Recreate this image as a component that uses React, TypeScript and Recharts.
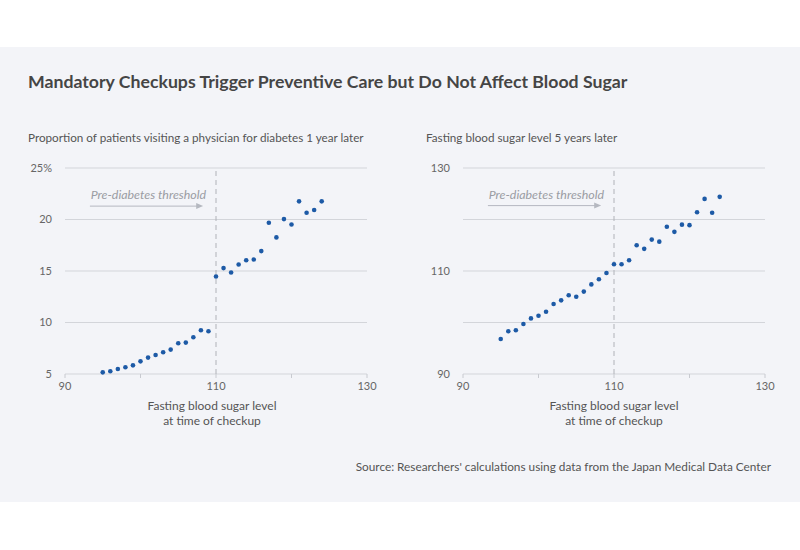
import {
  ScatterChart,
  Scatter,
  XAxis,
  YAxis,
  CartesianGrid,
  ReferenceLine,
} from 'recharts';

// fasting blood sugar at time of checkup (bin centers)
const checkupLevels = [
  95, 96, 97, 98, 99, 100, 101, 102, 103, 104, 105, 106, 107, 108, 109,
  110, 111, 112, 113, 114, 115, 116, 117, 118, 119, 120, 121, 122, 123, 124,
];

// % visiting a physician for diabetes 1 year later
const visitShare = [
  5.16, 5.26, 5.49, 5.65, 5.84, 6.23, 6.59, 6.85, 7.11, 7.37, 7.98, 8.05, 8.57, 9.25, 9.15,
  14.47, 15.28, 14.85, 15.63, 16.05, 16.12, 16.93, 19.68, 18.26, 20.04, 19.52, 21.76, 20.66, 20.92, 21.76,
];

// fasting blood sugar 5 years later
const laterSugar = [
  96.8, 98.3, 98.5, 99.7, 100.8, 101.3, 102.1, 103.6, 104.3, 105.3, 105.0, 106.0, 107.4, 108.4, 109.6,
  111.3, 111.3, 112.1, 115.0, 114.3, 116.1, 115.7, 118.6, 117.6, 119.0, 118.9, 121.4, 124.0, 121.3, 124.4,
];

const xTicks = [90, 100, 110, 120, 130];
const leftTicks = [5, 10, 15, 20, 25];
const rightTicks = [90, 100, 110, 120, 130];

const leftData = checkupLevels.map((x, i) => ({ x, y: visitShare[i] }));
const rightData = checkupLevels.map((x, i) => ({ x, y: laterSugar[i] }));

const FONT = 'Lato, "Open Sans", sans-serif';
const DOT = '#1d5aa6';

const Dot = (props: any) => <circle cx={props.cx} cy={props.cy} r={2.3} fill={DOT} />;

const ThresholdArrow = (props: any) => {
  const { x1, y1, x2, y2 } = props;
  return (
    <g>
      <line x1={x1} y1={y1} x2={x2 - 4} y2={y2} stroke="#b5b8c0" strokeWidth={1} />
      <path d={`M${x2},${y2} L${x2 - 7},${y2 - 3} L${x2 - 7},${y2 + 3} Z`} fill="#b5b8c0" />
      <text
        x={x2 + 3}
        y={y1 - 7}
        textAnchor="end"
        fontSize={12.4}
        fontStyle="italic"
        fill="#9a9ca3"
        fontFamily={FONT}
      >
        Pre-diabetes threshold
      </text>
    </g>
  );
};

const tickStyle = { fontSize: 11, fill: '#666', fontFamily: FONT };

function Panel({
  data,
  domain,
  ticks,
  fmt,
  arrowY,
}: {
  data: { x: number; y: number }[];
  domain: [number, number];
  ticks: number[];
  fmt: (v: number) => string;
  arrowY: number;
}) {
  return (
    <ScatterChart width={400} height={260} margin={{ top: 18, right: 33, bottom: 6, left: 20 }}>
      <CartesianGrid vertical={false} stroke="#d3d5da" />
      <XAxis
        type="number"
        dataKey="x"
        domain={[90, 130]}
        ticks={xTicks}
        tickFormatter={(v: number) => (v === 100 || v === 120 ? '' : String(v))}
        axisLine={false}
        tickLine={{ stroke: '#c8cad0' }}
        tickSize={4}
        tickMargin={4}
        tick={tickStyle}
        height={30}
      />
      <YAxis
        type="number"
        dataKey="y"
        domain={domain}
        ticks={ticks}
        tickFormatter={fmt}
        axisLine={false}
        tickLine={false}
        tickSize={0}
        tickMargin={13}
        tick={tickStyle}
        width={45}
      />
      <ReferenceLine x={110} stroke="#b0b2b8" strokeDasharray="5 4" />
      <ReferenceLine
        segment={[
          { x: 93.3, y: arrowY },
          { x: 108.3, y: arrowY },
        ]}
        shape={ThresholdArrow}
      />
      <Scatter data={data} shape={Dot} isAnimationActive={false} />
    </ScatterChart>
  );
}

export default function App() {
  return (
    <div
      style={{
        position: 'absolute',
        top: 0,
        left: 0,
        width: 800,
        height: 550,
        background: '#fff',
        fontFamily: FONT,
      }}
    >
      <div style={{ position: 'absolute', top: 47, left: 0, width: 800, height: 455, background: '#f3f4f8' }} />
      <div
        style={{
          position: 'absolute',
          top: 71,
          left: 28,
          fontSize: 17.7,
          fontWeight: 700,
          color: '#454545',
          whiteSpace: 'nowrap',
        }}
      >
        Mandatory Checkups Trigger Preventive Care but Do Not Affect Blood Sugar
      </div>
      <div style={{ position: 'absolute', top: 130, left: 28, fontSize: 11.7, color: '#555', whiteSpace: 'nowrap' }}>
        Proportion of patients visiting a physician for diabetes 1 year later
      </div>
      <div style={{ position: 'absolute', top: 130, left: 426, fontSize: 11.7, color: '#555', whiteSpace: 'nowrap' }}>
        Fasting blood sugar level 5 years later
      </div>
      <div style={{ position: 'absolute', top: 150, left: 0 }}>
        <Panel
          data={leftData}
          domain={[5, 25]}
          ticks={leftTicks}
          fmt={(v) => (v === 25 ? '25%' : String(v))}
          arrowY={21.3}
        />
      </div>
      <div style={{ position: 'absolute', top: 150, left: 398 }}>
        <Panel
          data={rightData}
          domain={[90, 130]}
          ticks={rightTicks}
          fmt={(v) => (v === 100 || v === 120 ? '' : String(v))}
          arrowY={122.7}
        />
      </div>
      <div
        style={{
          position: 'absolute',
          top: 398,
          left: 112,
          width: 200,
          textAlign: 'center',
          fontSize: 12,
          lineHeight: '15px',
          color: '#555',
        }}
      >
        Fasting blood sugar level
        <br />
        at time of checkup
      </div>
      <div
        style={{
          position: 'absolute',
          top: 398,
          left: 514,
          width: 200,
          textAlign: 'center',
          fontSize: 12,
          lineHeight: '15px',
          color: '#555',
        }}
      >
        Fasting blood sugar level
        <br />
        at time of checkup
      </div>
      <div
        style={{
          position: 'absolute',
          top: 459,
          right: 29,
          fontSize: 11.8,
          color: '#555',
          whiteSpace: 'nowrap',
        }}
      >
        Source: Researchers' calculations using data from the Japan Medical Data Center
      </div>
    </div>
  );
}
